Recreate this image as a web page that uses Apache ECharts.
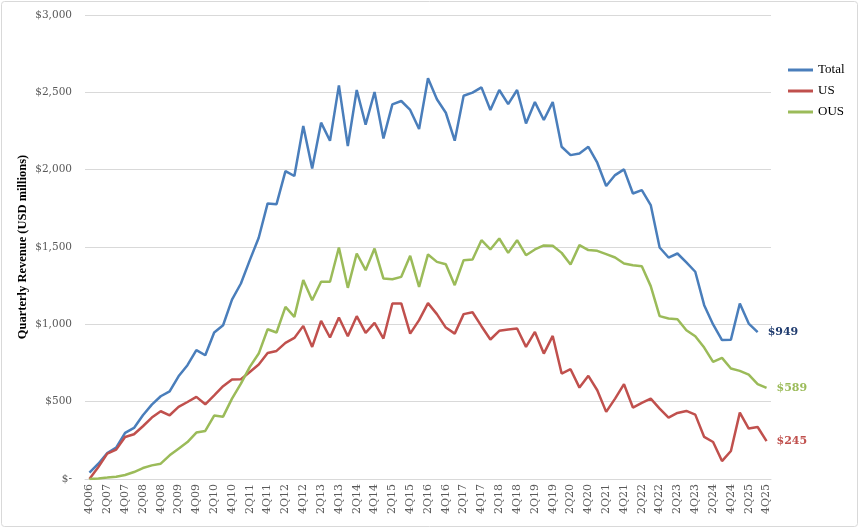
<!DOCTYPE html>
<html>
<head>
<meta charset="utf-8">
<script src="https://cdn.jsdelivr.net/npm/echarts@6.0.0/dist/echarts.min.js"></script>
<style>
  html, body { margin: 0; padding: 0; background: #fff; }
  #main { width: 860px; height: 528px; }
</style>
</head>
<body>
<div id="main"></div>
<script>
// quarters 4Q06 .. 4Q25
var quarters = [
  '4Q06',
  '1Q07','2Q07','3Q07','4Q07','1Q08','2Q08','3Q08','4Q08',
  '1Q09','2Q09','3Q09','4Q09','1Q10','2Q10','3Q10','4Q10',
  '1Q11','2Q11','3Q11','4Q11','1Q12','2Q12','3Q12','4Q12',
  '1Q13','2Q13','3Q13','4Q13','1Q14','2Q14','3Q14','4Q14',
  '1Q15','2Q15','3Q15','4Q15','1Q16','2Q16','3Q16','4Q16',
  '1Q17','2Q17','3Q17','4Q17','1Q18','2Q18','3Q18','4Q18',
  '1Q19','2Q19','3Q19','4Q19','1Q20','2Q20','3Q20','4Q20',
  '1Q21','2Q21','3Q21','4Q21','1Q22','2Q22','3Q22','4Q22',
  '1Q23','2Q23','3Q23','4Q23','1Q24','2Q24','3Q24','4Q24',
  '1Q25','2Q25','3Q25','4Q25'
];

// total stops at 3Q25
var total = [
  41, 99, 168, 203, 298, 330, 412, 481, 535, 567, 664, 736, 833, 800, 947, 994, 1160, 1264, 1415, 1560,
  1782, 1777, 1991, 1959, 2282, 2008, 2304, 2187, 2545, 2153, 2515, 2291, 2502, 2202, 2422, 2444, 2386, 2263, 2591,
  2455, 2368, 2187, 2478, 2498, 2532, 2386, 2515, 2424, 2515, 2299, 2437, 2321, 2437, 2148, 2094, 2105, 2148, 2045, 1894,
  1965, 2002, 1846, 1868, 1771, 1497, 1432, 1458, 1400, 1340, 1124, 999, 898, 901, 1135, 1005, 949
];

var us = [
  0, 78, 164, 190, 272, 289, 341, 397, 438, 412, 466, 498, 531, 483, 541, 600, 643, 645, 692, 740,
  815, 828, 880, 912, 990, 854, 1022, 915, 1044, 923, 1053, 945, 1009, 908, 1135, 1135, 940, 1027, 1137,
  1066, 979, 940, 1066, 1078, 988, 902, 958, 966, 973, 854, 951, 811, 925, 682, 710, 591, 667, 574, 434,
  520, 613, 462, 492, 520, 455, 397, 427, 440, 416, 272, 239, 116, 181, 429, 326, 336, 245
];

var ous = [
  0, 4, 9, 15, 26, 45, 71, 88, 99, 153, 196, 239, 300, 311, 410, 403, 520, 617, 725, 811,
  968, 947, 1113, 1048, 1286, 1156, 1275, 1275, 1497, 1236, 1458, 1350, 1490, 1296, 1292, 1307, 1443, 1242, 1452,
  1404, 1389, 1253, 1415, 1419, 1544, 1484, 1555, 1462, 1544, 1447, 1484, 1510, 1508, 1462, 1387, 1512, 1480, 1475, 1454,
  1432, 1393, 1382, 1376, 1247, 1053, 1038, 1033, 962, 923, 850, 757, 783, 714, 699, 675, 613, 589
];

var yTickLabels = ['$-', '$500', '$1,000', '$1,500', '$2,000', '$2,500', '$3,000'];

var wideSerif = '"DejaVu Serif", serif';
var narrowSerif = '"Liberation Serif", serif';
var chart = echarts.init(document.getElementById('main'));

function makeSeries(name, data, color, labelColor) {
  return {
    name: name,
    type: 'line',
    data: data,
    symbol: 'none',
    lineStyle: { width: 2.5, color: color },
    itemStyle: { color: color },
    endLabel: {
      show: true,
      distance: 10,
      formatter: function (p) { return '$' + p.value; },
      color: labelColor,
      fontFamily: wideSerif,
      fontWeight: 'bold',
      fontSize: 11
    }
  };
}

chart.setOption({
  animation: false,
  backgroundColor: '#fff',
  graphic: [{
    type: 'rect',
    shape: { x: 1.5, y: 1.5, width: 856, height: 525, r: 3 },
    style: { fill: 'none', stroke: '#d9d9d9', lineWidth: 1 },
    silent: true
  }],
  grid: { left: 85, right: 89, top: 15, bottom: 49, containLabel: false, outerBoundsMode: 'none' },
  legend: {
    orient: 'vertical',
    left: 783,
    top: 58,
    icon: 'rect',
    itemWidth: 25,
    itemHeight: 3,
    itemGap: 7,
    textStyle: { fontFamily: narrowSerif, fontSize: 13, color: '#000', lineHeight: 14 },
    data: ['Total', 'US', 'OUS']
  },
  xAxis: {
    type: 'category',
    data: quarters,
    boundaryGap: true,
    axisLine: { lineStyle: { color: '#d9d9d9' } },
    axisTick: { show: false },
    axisLabel: {
      interval: 1,
      rotate: 90,
      margin: 5,
      color: '#595959',
      fontFamily: wideSerif,
      fontSize: 11
    }
  },
  yAxis: {
    type: 'value',
    min: 0,
    max: 3000,
    interval: 500,
    name: 'Quarterly Revenue (USD millions)',
    nameLocation: 'middle',
    nameGap: 56,
    nameMoveOverlap: false,
    nameTextStyle: { fontFamily: narrowSerif, fontWeight: 'bold', fontSize: 12.5, color: '#000' },
    axisLine: { show: false },
    axisTick: { show: false },
    splitLine: { lineStyle: { color: '#d9d9d9', width: 1 } },
    axisLabel: {
      margin: 13,
      color: '#595959',
      fontFamily: wideSerif,
      fontSize: 10.5,
      formatter: function (v) { return yTickLabels[Math.round(v / 500)]; }
    }
  },
  series: [
    makeSeries('Total', total, '#4a7ebb', '#1f3b6e'),
    makeSeries('US', us, '#c0504d', '#c0504d'),
    makeSeries('OUS', ous, '#9bbb59', '#9bbb59')
  ]
});
</script>
</body>
</html>
